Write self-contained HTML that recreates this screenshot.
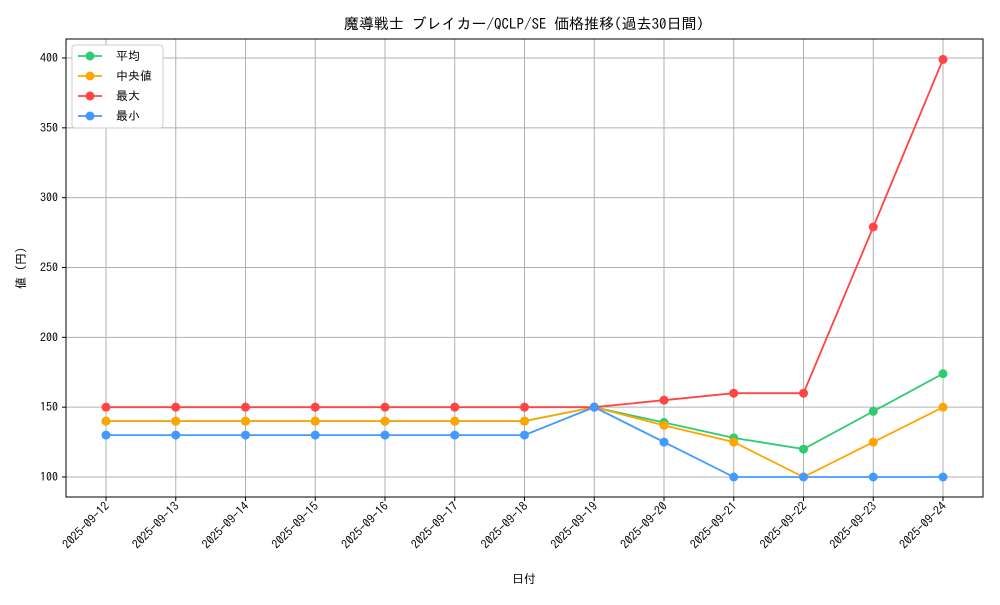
<!DOCTYPE html>
<html><head><meta charset="utf-8"><style>
body{margin:0;background:#fff}
svg text{font-family:"IPAGothic","Liberation Mono","Noto Sans CJK JP",monospace;fill:#000}
</style></head><body>
<svg width="1000" height="600">
<rect x="0" y="0" width="1000" height="600" fill="#fff"/>
<text x="524" y="29" font-size="15" text-anchor="middle">魔導戦士 ブレイカー/QCLP/SE 価格推移(過去30日間)</text>
<g id="grid"></g>
<rect x="66" y="39" width="917" height="458" fill="none" stroke="#000" stroke-width="1"/>
<g id="axes"></g>
<g id="series"></g>
<text x="524" y="583" font-size="12" text-anchor="middle">日付</text>
<text transform="translate(25,268) rotate(-90)" font-size="12" text-anchor="middle">値 (円)</text>
<g id="legend"></g>
</svg>
<script>
const dates=["2025-09-12","2025-09-13","2025-09-14","2025-09-15","2025-09-16","2025-09-17","2025-09-18","2025-09-19","2025-09-20","2025-09-21","2025-09-22","2025-09-23","2025-09-24"];
const avgVals=[140,140,140,140,140,140,140,150,139,128,120,147,174];
const medianVals=[140,140,140,140,140,140,140,150,137,125,100,125,150];
const maxVals=[150,150,150,150,150,150,150,150,155,160,160,279,399];
const minVals=[130,130,130,130,130,130,130,150,125,100,100,100,100];
const yTicks=[100,150,200,250,300,350,400];
const seriesNames=["平均","中央値","最大","最小"];
const NS="http://www.w3.org/2000/svg";
const xs=i=>106+i*(943-106)/(dates.length-1);
const ys=v=>477-(v-100)*(477-58)/300;
function mk(t,a,p){const e=document.createElementNS(NS,t);for(const k in a)e.setAttribute(k,a[k]);p.appendChild(e);return e;}
const grid=document.getElementById('grid'),axes=document.getElementById('axes');
dates.forEach((d,i)=>{
 const x=xs(i);
 const g=mk('line',{x1:x,x2:x,y1:39,y2:497,stroke:'#b0b0b0','stroke-width':1},grid);
 
 
 mk('line',{x1:x,x2:x,y1:497,y2:501,stroke:'#000'},axes);
 const t=mk('text',{x:x+4,y:507,'font-size':12,'text-anchor':'end',transform:`rotate(-45 ${x+4} 507)`},axes);
 t.textContent=d;
 
 
});
yTicks.forEach(v=>{
 const y=ys(v);
 const g=mk('line',{x1:66,x2:983,y1:y,y2:y,stroke:'#b0b0b0','stroke-width':1},grid);
 
 
 mk('line',{x1:62,x2:66,y1:y,y2:y,stroke:'#000'},axes);
 const t=mk('text',{x:58,y:y+4,'font-size':12,'text-anchor':'end'},axes);
 t.textContent=v;
 
 
});
const colors=["#2ecc71","#ffa500","#ff4444","#4499ff"];
const all=[avgVals,medianVals,maxVals,minVals];
const keys=["avg","median","max","min"];
const sg=document.getElementById('series');
all.forEach((vals,s)=>{
 const g=mk('g',{},sg);
 
 
 const p=mk('polyline',{points:vals.map((v,i)=>xs(i)+','+ys(v)).join(' '),fill:'none',stroke:colors[s],'stroke-width':1.8},g);
 
 
 vals.forEach((v,i)=>{
  const c=mk('circle',{cx:xs(i),cy:ys(v),r:4.5,fill:colors[s]},g);
  
  
 });
});
const lg=document.getElementById('legend');


mk('rect',{x:72,y:45,width:91,height:83,fill:'#fff',stroke:'#ccc',rx:3},lg);
seriesNames.forEach((n,s)=>{
 const y=56+s*20;
 const e=mk('g',{},lg);
 
 
 mk('line',{x1:78,x2:102,y1:y,y2:y,stroke:colors[s],'stroke-width':1.8},e);
 mk('circle',{cx:90,cy:y,r:4.5,fill:colors[s]},e);
 const t=mk('text',{x:116,y:y+4,'font-size':12},e);
 t.textContent=n;
});
</script>
</body></html>
